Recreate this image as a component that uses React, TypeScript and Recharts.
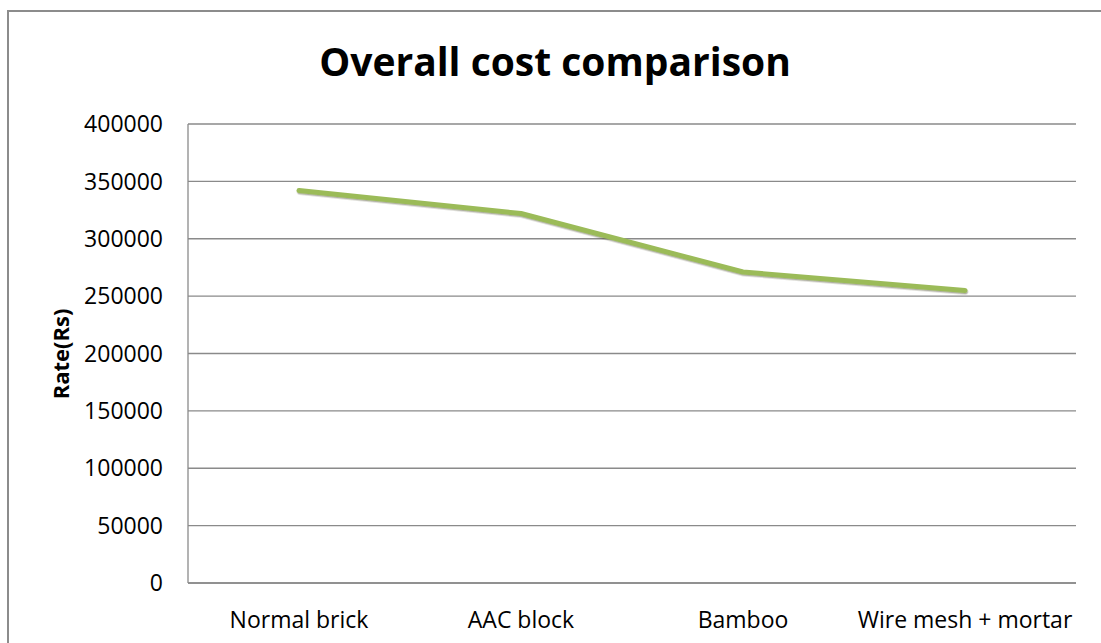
import { LineChart, Line, XAxis, YAxis, CartesianGrid } from 'recharts';

const categories = ['Normal brick', 'AAC block', 'Bamboo', 'Wire mesh + mortar'];
const overallCost = [342000, 322000, 271000, 255000];
const rateTicks = [0, 50000, 100000, 150000, 200000, 250000, 300000, 350000, 400000];

const data = categories.map((name, i) => ({ name, cost: overallCost[i] }));

const FONT = '"Open Sans", "DejaVu Sans", sans-serif';
const GRID = '#8a8a8a';

export default function App() {
  return (
    <div
      style={{
        position: 'absolute',
        left: 0,
        top: 0,
        width: 1101,
        height: 643,
        overflow: 'hidden',
        background: '#fff',
        fontFamily: FONT,
      }}
    >
      {/* chart frame, runs off the right and bottom edges */}
      <div
        style={{
          position: 'absolute',
          left: 7,
          top: 10,
          width: 1200,
          height: 700,
          border: '2px solid #8c8c8c',
          boxSizing: 'border-box',
        }}
      />
      <div
        style={{
          position: 'absolute',
          left: 0,
          top: 36,
          width: 1110,
          textAlign: 'center',
          fontSize: 39,
          fontWeight: 700,
          lineHeight: '50px',
          color: '#000',
        }}
      >
        Overall cost comparison
      </div>
      <div
        style={{
          position: 'absolute',
          left: 60,
          top: 354,
          transform: 'translate(-50%, -50%) rotate(-90deg)',
          fontSize: 22,
          fontWeight: 700,
          whiteSpace: 'nowrap',
          color: '#000',
        }}
      >
        Rate(Rs)
      </div>
      <div style={{ position: 'absolute', left: 0, top: 0 }}>
        <LineChart
          width={1101}
          height={643}
          data={data}
          margin={{ top: 124, right: 25, bottom: 30, left: 68 }}
        >
          <defs>
            <filter id="lineShadow" x="-5%" y="-20%" width="110%" height="140%">
              <feDropShadow dx="0.6" dy="1.4" stdDeviation="0.7" floodColor="#4a4a2a" floodOpacity="0.45" />
            </filter>
          </defs>
          <CartesianGrid vertical={false} stroke={GRID} strokeWidth={1.3} />
          <XAxis
            dataKey="name"
            height={30}
            interval={0}
            padding={{ left: 111, right: 111 }}
            axisLine={{ stroke: GRID, strokeWidth: 1.3 }}
            tickLine={false}
            tickSize={0}
            tickMargin={29}
            tick={{ fontSize: 23, fill: '#000', fontFamily: FONT }}
          />
          <YAxis
            width={120}
            domain={[0, 400000]}
            ticks={rateTicks}
            interval={0}
            axisLine={{ stroke: GRID, strokeWidth: 1.3 }}
            tickLine={false}
            tickSize={0}
            tickMargin={25}
            tick={{ fontSize: 23, fill: '#000', fontFamily: FONT }}
          />
          <Line
            type="linear"
            dataKey="cost"
            stroke="#9bbb59"
            strokeWidth={5}
            strokeLinecap="round"
            strokeLinejoin="round"
            filter="url(#lineShadow)"
            dot={false}
            activeDot={false}
            isAnimationActive={false}
          />
        </LineChart>
      </div>
    </div>
  );
}
